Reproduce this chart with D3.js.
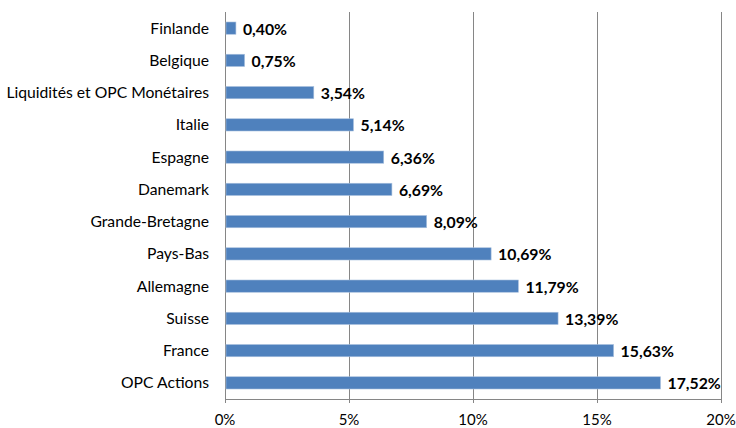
<!DOCTYPE html>
<html><head><meta charset="utf-8">
<script src="https://cdn.jsdelivr.net/npm/d3@7"></script>
<style>body{margin:0;background:#fff}svg{display:block}text{font-family:Lato,"Open Sans",sans-serif}</style>
</head><body><svg id="c" width="736" height="428"></svg>
<script>
const categories = ["Finlande","Belgique","Liquidités et OPC Monétaires","Italie","Espagne","Danemark","Grande-Bretagne","Pays-Bas","Allemagne","Suisse","France","OPC Actions"];
const values = [0.40,0.75,3.54,5.14,6.36,6.69,8.09,10.69,11.79,13.39,15.63,17.52];
const ticks = [0,5,10,15,20];
const tickLabels = ["0%","5%","10%","15%","20%"];

const svg = d3.select("#c");
const L=225,R=721,T=12,B=399;
const x = d3.scaleLinear().domain([0,20]).range([L,R]);
const y = d3.scaleBand().domain(categories).range([T,B]).paddingInner(0.62).paddingOuter(0.31);

svg.append("g").selectAll("line").data(ticks.slice(1)).join("line")
  .attr("x1",d=>x(d)+0.5).attr("x2",d=>x(d)+0.5).attr("y1",T).attr("y2",B+4)
  .attr("stroke","#868686").attr("stroke-width",1);
svg.append("line").attr("x1",L+0.5).attr("x2",L+0.5).attr("y1",T).attr("y2",B+4).attr("stroke","#868686");
svg.append("line").attr("x1",L).attr("x2",R+1).attr("y1",B+0.5).attr("y2",B+0.5).attr("stroke","#868686");

svg.append("g").selectAll("rect").data(values).join("rect")
  .attr("x",x(0)+1).attr("y",(d,i)=>y(categories[i]))
  .attr("width",d=>x(d)-x(0)).attr("height",y.bandwidth())
  .attr("fill","#4F81BD").attr("stroke","#a9c0de").attr("stroke-width",0.6);

svg.append("g").selectAll("text").data(values).join("text")
  .attr("x",d=>x(d)+8).attr("y",(d,i)=>y(categories[i])+y.bandwidth()/2+1)
  .attr("dy","0.35em").attr("font-size",15.8).attr("font-weight","bold").attr("fill","#000")
  .text(d=>d.toFixed(2).replace(".",",")+"%");

svg.append("g").selectAll("text").data(categories).join("text")
  .attr("x",209).attr("y",d=>y(d)+y.bandwidth()/2)
  .attr("dy","0.35em").attr("text-anchor","end").attr("font-size",15.7).attr("fill","#000")
  .text(d=>d);

svg.append("g").selectAll("text").data(ticks).join("text")
  .attr("x",d=>x(d)).attr("y",420).attr("dy","0.35em").attr("text-anchor","middle")
  .attr("font-size",15).attr("fill","#000").text((d,i)=>tickLabels[i]);
</script></body></html>
